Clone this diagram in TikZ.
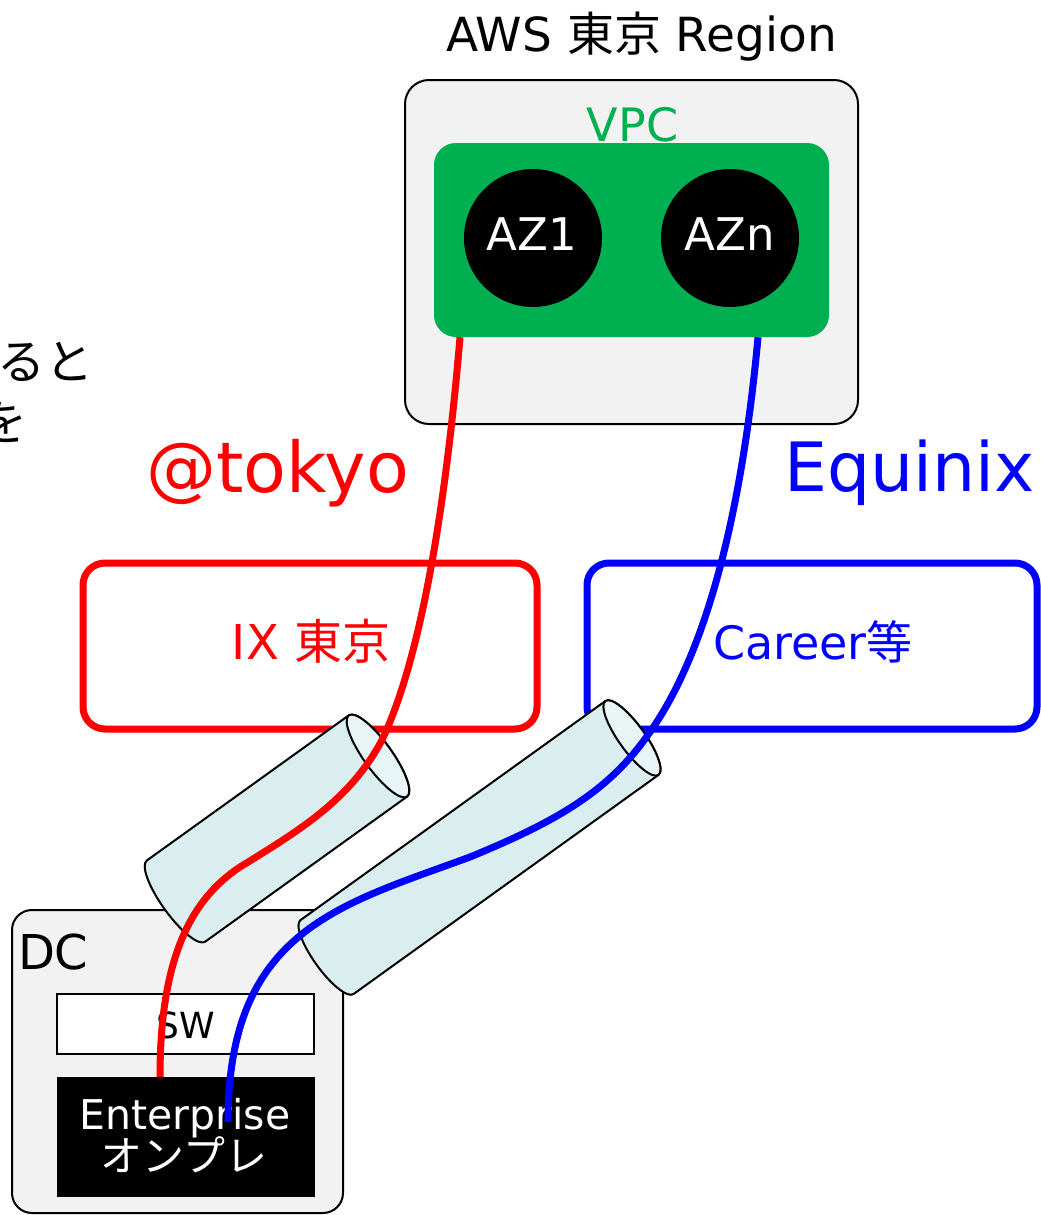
\documentclass[tikz,border=0pt]{standalone}
\usepackage{fontspec}
\setmainfont{DejaVu Sans}
\newfontfamily\jp{Noto Sans CJK JP}
\definecolor{graybg}{HTML}{F2F2F2}
\definecolor{vpcgreen}{HTML}{00B050}
\definecolor{tubefill}{HTML}{DAEDEF}
\definecolor{tubeend}{HTML}{E8F5F6}
\definecolor{cred}{HTML}{FF0000}
\definecolor{cblue}{HTML}{0000FF}
\tikzset{
  fs/.style={font=\fontsize{#1}{#1}\selectfont},
  txt/.style={inner sep=0pt, outer sep=0pt},
  panel/.style={draw=black, line width=2pt, fill=graybg, rounded corners=24pt, inner sep=0pt},
  linkbox/.style={line width=7pt, rounded corners=22pt, inner sep=0pt},
  azone/.style={circle, fill=black, minimum size=138pt, inner sep=0pt},
  tubeline/.style={draw=black, line width=2pt, line join=round},
  cable/.style={line width=7pt},
}
\begin{document}
\begin{tikzpicture}[x=1pt,y=-1pt]
\useasboundingbox (0,0) rectangle (1041,1215);
\clip (0,0) rectangle (1041,1215);

% partial text at the left edge
\node[txt, fs=48, anchor=east] (lefta) at (94,362) {\jp ると};
\node[txt, fs=48, anchor=east] (leftb) at (28,422) {\jp を};

% AWS region with VPC and availability zones
\node[txt, fs=47, anchor=base] (title) at (641.5,52) {AWS {\jp 東京} Region};
\node[panel, minimum width=453pt, minimum height=344pt] (aws) at (631.5,252) {};
\node[txt, fs=46, anchor=base, text=vpcgreen] (vpct) at (632.5,141) {VPC};
\node[fill=vpcgreen, rounded corners=22pt, minimum width=395pt, minimum height=194pt, inner sep=0pt] (vpc) at (631.5,240) {};
\node[azone] (az1) at (533,238) {};
\node[azone] (azn) at (730,238) {};
\node[txt, fs=45, anchor=base, text=white] (az1t) at (532,250) {AZ1};
\node[txt, fs=45, anchor=base, text=white] (aznt) at (730,250) {AZn};

% carrier labels
\node[txt, fs=70, anchor=base, text=cred] (tokyo) at (277.5,492) {@tokyo};
\node[txt, fs=68, anchor=base, text=cblue] (equinix) at (909.5,491) {Equinix};

% exchange boxes
\node[linkbox, draw=cred, minimum width=454pt, minimum height=166pt] (ix) at (310,646) {};
\node[txt, fs=48, anchor=base, text=cred] (ixt) at (311,659) {IX {\jp 東京}};
\node[linkbox, draw=cblue, minimum width=450pt, minimum height=166pt] (career) at (812,646) {};
\node[txt, fs=46, anchor=base, text=cblue] (careert) at (813,659) {Career{\jp 等}};

% data centre
\node[panel, rounded corners=20pt, minimum width=331pt, minimum height=303pt] (dc) at (177.5,1061.5) {};
\node[txt, fs=48, anchor=base west] (dct) at (18,969) {DC};
\node[draw=black, line width=2pt, fill=white, minimum width=257pt, minimum height=60pt, inner sep=0pt] (sw) at (185.5,1024) {};
\node[txt, fs=36, anchor=base] (swt) at (186,1038) {SW};
\node[fill=black, minimum width=258pt, minimum height=120pt, inner sep=0pt] (ent) at (186,1137) {};
\node[txt, fs=41, anchor=base, text=white] (entt) at (185,1129) {Enterprise};
\node[txt, fs=42, anchor=base, text=white] (entj) at (184,1171) {\jp オンプレ};

% conduits
\begin{scope}[shift={(277,828.5)}, x=1pt, y=1pt, rotate=35.7]
  \path[tubeline, fill=tubefill] (-124.35,50) -- (124.35,50)
    arc[start angle=90, end angle=-90, x radius=14, y radius=50]
    -- (-124.35,-50)
    arc[start angle=-90, end angle=-270, x radius=14, y radius=50] -- cycle;
  \path[tubeline, fill=tubeend] (124.35,0) ellipse [x radius=14, y radius=50];
\end{scope}
\begin{scope}[shift={(479.5,847.5)}, x=1pt, y=1pt, rotate=35.7]
  \path[tubeline, fill=tubefill] (-187.75,45.5) -- (187.75,45.5)
    arc[start angle=90, end angle=-90, x radius=13, y radius=45.5]
    -- (-187.75,-45.5)
    arc[start angle=-90, end angle=-270, x radius=13, y radius=45.5] -- cycle;
  \path[tubeline, fill=tubeend] (187.75,0) ellipse [x radius=13, y radius=45.5];
\end{scope}

% cables
\coordinate (r0) at ([xshift=-171.5pt]vpc.south);
\coordinate (r1) at ([xshift=-26pt]ent.north);
\coordinate (b0) at ([xshift=126.5pt]vpc.south);
\coordinate (b1) at ([xshift=42pt, yshift=15pt]ent.center);
\draw[cable, cred] (r0) .. controls (448,480) and (425,650) .. (382,740)
  .. controls (350,800) and (300,830) .. (240,867)
  .. controls (190,900) and (160,960) .. (r1);
\draw[cable, cblue] (b0) .. controls (745,480) and (715,640) .. (650,732)
  .. controls (610,790) and (560,820) .. (470,857)
  .. controls (340,905) and (228,930) .. (b1);
\end{tikzpicture}
\end{document}
